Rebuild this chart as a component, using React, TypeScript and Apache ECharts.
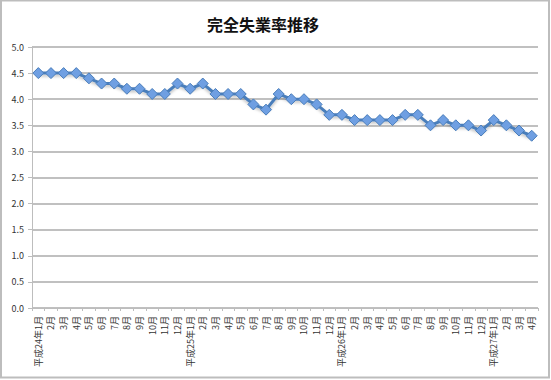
import React, { useEffect, useRef } from "react";
import * as echarts from "echarts";

const categories: string[] = [
  "平成24年1月", "2月", "3月", "4月", "5月", "6月", "7月", "8月", "9月", "10月", "11月", "12月",
  "平成25年1月", "2月", "3月", "4月", "5月", "6月", "7月", "8月", "9月", "10月", "11月", "12月",
  "平成26年1月", "2月", "3月", "4月", "5月", "6月", "7月", "8月", "9月", "10月", "11月", "12月",
  "平成27年1月", "2月", "3月", "4月",
];

const rates: number[] = [
  4.5, 4.5, 4.5, 4.5, 4.4, 4.3, 4.3, 4.2, 4.2, 4.1, 4.1, 4.3,
  4.2, 4.3, 4.1, 4.1, 4.1, 3.9, 3.8, 4.1, 4.0, 4.0, 3.9, 3.7,
  3.7, 3.6, 3.6, 3.6, 3.6, 3.7, 3.7, 3.5, 3.6, 3.5, 3.5, 3.4,
  3.6, 3.5, 3.4, 3.3,
];

const title = "完全失業率推移";

export default function App() {
  const ref = useRef<HTMLDivElement>(null);
  useEffect(() => {
    if (!ref.current) return;
    const chart = echarts.init(ref.current, undefined, { renderer: "svg" });
    chart.setOption({
      animation: false,
      backgroundColor: "#ffffff",
      title: {
        text: title,
        left: 202,
        top: 11,
        textStyle: {
          fontSize: 16,
          fontWeight: "bold",
          color: "#111",
          fontFamily: "Noto Sans CJK JP",
        },
      },
      graphic: [
        {
          type: "rect",
          shape: { x: 1, y: 0.5, width: 548, height: 377 },
          style: { fill: "none", stroke: "#bdbdbd", lineWidth: 2 },
          silent: true,
        },
      ],
      grid: { left: 32, right: 13, top: 47, bottom: 72 },
      xAxis: {
        type: "category",
        data: categories,
        boundaryGap: true,
        axisLine: { lineStyle: { color: "#bdbdbd", width: 1 } },
        axisTick: { show: true, interval: 0, length: 3, lineStyle: { color: "#bdbdbd" } },
        axisLabel: {
          interval: 0,
          rotate: 90,
          fontSize: 9,
          color: "#333",
          margin: 8,
          fontFamily: "Noto Sans CJK JP",
        },
        splitLine: { show: false },
      },
      yAxis: {
        type: "value",
        min: 0,
        max: 5,
        interval: 0.5,
        axisLine: { show: true, lineStyle: { color: "#bdbdbd", width: 1 } },
        axisTick: { show: true, length: 4, lineStyle: { color: "#bdbdbd" } },
        axisLabel: {
          fontSize: 9,
          color: "#333",
          margin: 8,
          fontFamily: "Noto Sans CJK JP",
          formatter: (v: number) => v.toFixed(1),
        },
        splitLine: { show: true, lineStyle: { color: "#c0c0c0", width: 2 } },
      },
      series: [
        {
          type: "line",
          data: rates,
          symbol: "diamond",
          symbolSize: 11,
          lineStyle: {
            color: "#4a7ebb",
            width: 3,
            shadowColor: "rgba(0,0,0,0.25)",
            shadowBlur: 3,
            shadowOffsetY: 2,
          },
          itemStyle: {
            color: "#6f9fe2",
            borderColor: "#4a7ebb",
            borderWidth: 1,
          },
        },
      ],
    });
    return () => chart.dispose();
  }, []);
  return (
    <div
      ref={ref}
      style={{ position: "fixed", left: 0, top: 0, width: 551, height: 380 }}
    />
  );
}
